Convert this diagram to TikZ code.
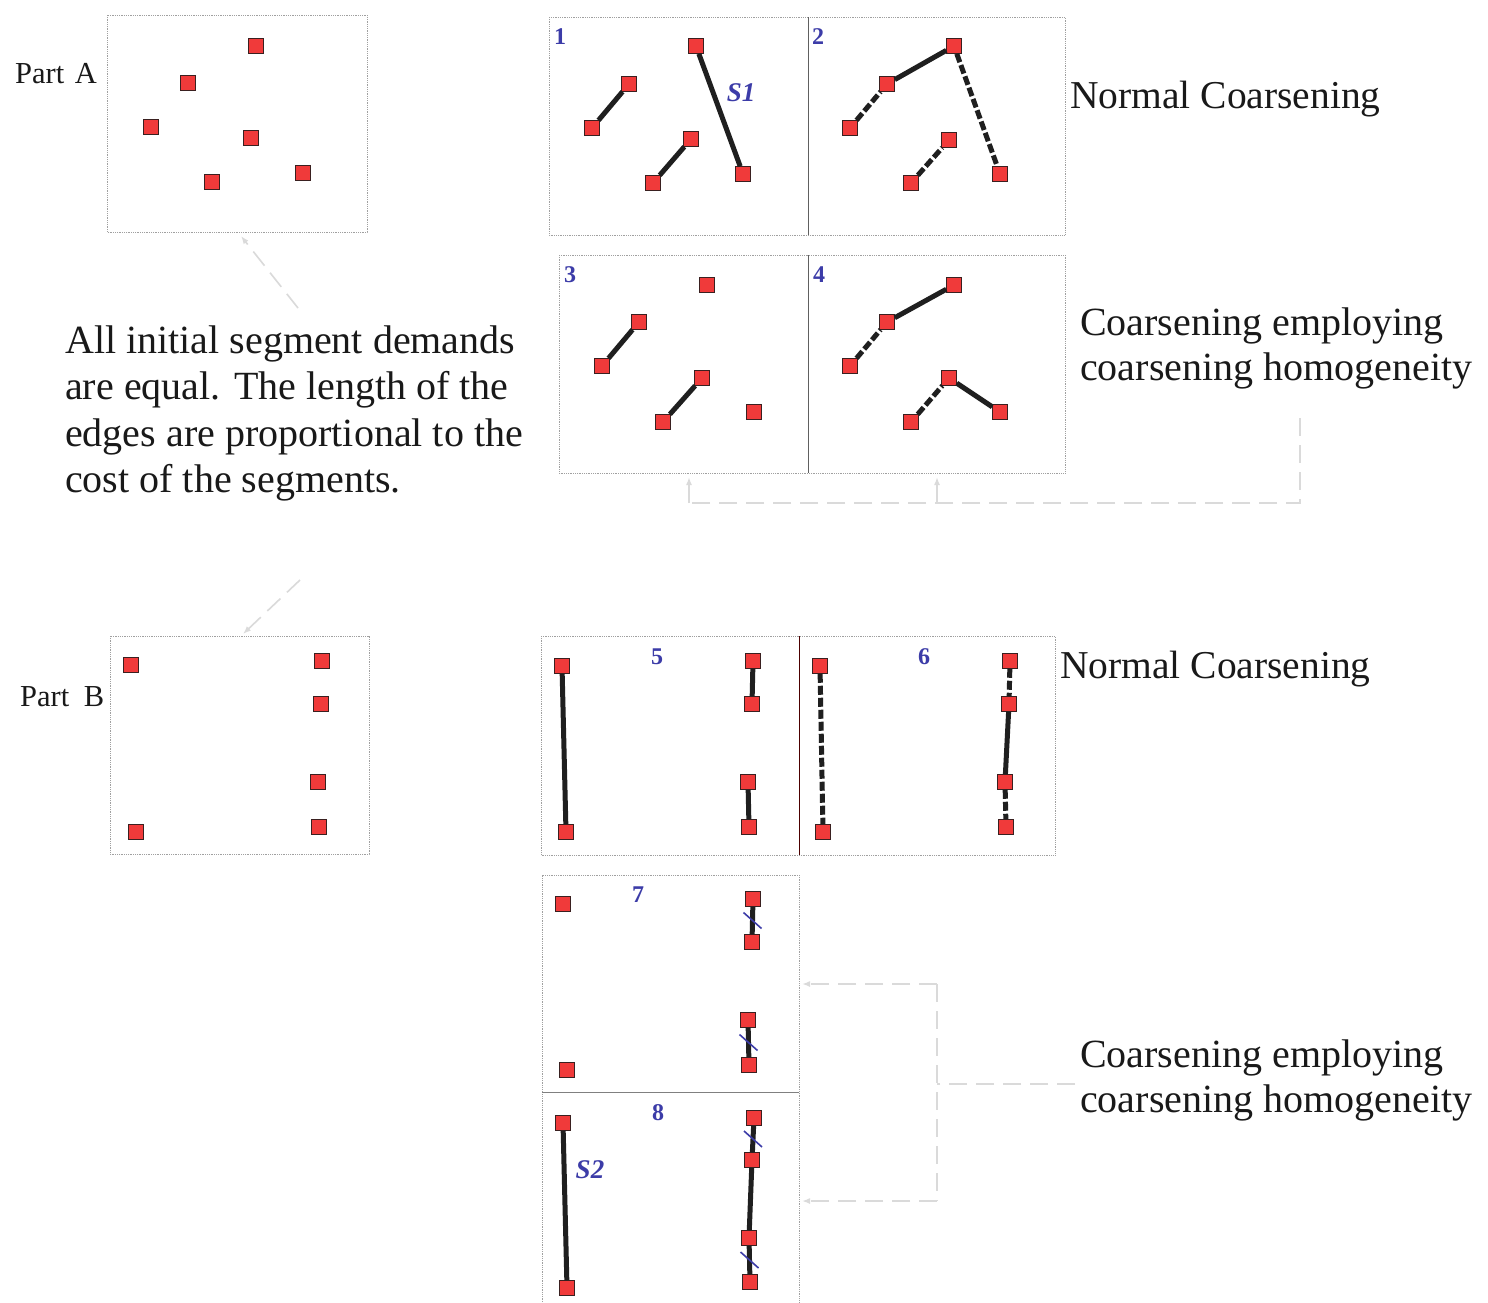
\documentclass[tikz,border=0pt]{standalone}
\usepackage{fontspec}
\setmainfont{Liberation Serif}
\usetikzlibrary{arrows.meta}
\definecolor{sqred}{HTML}{F03A3A}
\definecolor{sqedge}{HTML}{3A2020}
\definecolor{numblue}{HTML}{3C3CA8}
\definecolor{framegray}{HTML}{A0A0A0}
\definecolor{divgray}{HTML}{606060}
\definecolor{guidegray}{HTML}{DADADA}

\begin{document}
\begin{tikzpicture}[x=1pt,y=-1pt,
  sq/.style={rectangle,draw=sqedge,fill=sqred,line width=1.2pt,minimum size=15.5pt,inner sep=0pt,outer sep=0pt},
  seg/.style={line width=5pt,draw=black!88},
  dseg/.style={seg,dash pattern=on 9pt off 3pt},
  panel/.style={draw=framegray,line width=0.8pt,densely dotted},
  divline/.style={draw=divgray,line width=1pt},
  num/.style={font=\fontsize{24}{24}\selectfont\bfseries,text=numblue,inner sep=0pt},
  seglabel/.style={font=\fontsize{27}{27}\selectfont\bfseries\itshape,text=numblue,inner sep=0pt},
  bigtext/.style={font=\fontsize{40}{40}\selectfont,anchor=base west,inner sep=0pt,text=black!90},
  parttext/.style={font=\fontsize{30.5}{30.5}\selectfont,anchor=base west,inner sep=0pt,text=black!90},
  guide/.style={draw=guidegray,line width=1.6pt,dash pattern=on 18pt off 9pt},
  guidearrow/.style={guide,-{Latex[length=8pt,width=6pt]}},
  cut/.style={draw=numblue,line width=1.6pt}
]
\fill[white] (0,0) rectangle (1488,1302);
\useasboundingbox (0,0) rectangle (1488,1302);

% ---------- Part A: initial graph ----------
\draw[panel] (107,15) rectangle (367,232);
\node[parttext] (partA) at (15,83) {Part\hspace{3pt} A};
\node[sq] (a1) at (256,46) {};
\node[sq] (a2) at (188,83) {};
\node[sq] (a3) at (151,127) {};
\node[sq] (a4) at (251,138) {};
\node[sq] (a5) at (212,182) {};
\node[sq] (a6) at (303,173) {};

% ---------- Panels 1 and 2 ----------
\draw[panel] (549,17) rectangle (1065,235);
\draw[divline] (808,17) -- (808,235);
\node[num] (n1) at (560,37) {1};
\node[num] (n2) at (818,37) {2};
\node[sq] (p1a) at (696,46) {};
\node[sq] (p1b) at (629,84) {};
\node[sq] (p1c) at (592,128) {};
\node[sq] (p1d) at (691,139) {};
\node[sq] (p1e) at (653,183) {};
\node[sq] (p1f) at (743,174) {};
\draw[seg] (p1c) -- (p1b);
\draw[seg] (p1e) -- (p1d);
\draw[seg] (p1a) -- (p1f);
\node[seglabel] (s1) at (741,93) {S1};

\node[sq] (p2a) at (954,46) {};
\node[sq] (p2b) at (887,84) {};
\node[sq] (p2c) at (850,128) {};
\node[sq] (p2d) at (949,140) {};
\node[sq] (p2e) at (911,183) {};
\node[sq] (p2f) at (1000,174) {};
\draw[seg] (p2b) -- (p2a);
\draw[dseg] (p2c) -- (p2b);
\draw[dseg] (p2e) -- (p2d);
\draw[dseg] (p2a) -- (p2f);

\node[bigtext,font=\fontsize{39.5}{39.5}\selectfont] (normA) at (1070,108) {Normal Coarsening};

% ---------- Panels 3 and 4 ----------
\draw[panel] (559,255) rectangle (1065,473);
\draw[divline] (808,255) -- (808,473);
\node[num] (n3) at (570,275) {3};
\node[num] (n4) at (819,275) {4};
\node[sq] (p3a) at (707,285) {};
\node[sq] (p3b) at (639,322) {};
\node[sq] (p3c) at (602,366) {};
\node[sq] (p3d) at (702,378) {};
\node[sq] (p3e) at (663,422) {};
\node[sq] (p3f) at (754,412) {};
\draw[seg] (p3c) -- (p3b);
\draw[seg] (p3e) -- (p3d);

\node[sq] (p4a) at (954,285) {};
\node[sq] (p4b) at (887,322) {};
\node[sq] (p4c) at (850,366) {};
\node[sq] (p4d) at (949,378) {};
\node[sq] (p4e) at (911,422) {};
\node[sq] (p4f) at (1000,412) {};
\draw[seg] (p4b) -- (p4a);
\draw[dseg] (p4c) -- (p4b);
\draw[dseg] (p4e) -- (p4d);
\draw[seg] (p4d) -- (p4f);

\node[bigtext] (homA1) at (1080,335) {Coarsening employing};
\node[bigtext] (homA2) at (1080,380) {coarsening homogeneity};

% guide from the homogeneity label to panels 3 and 4
\coordinate (gA0) at (1300,418);
\coordinate (gA1) at (1300,503);
\coordinate (gA2) at (689,503);
\coordinate (gA3) at (937,503);
\coordinate (gA4) at (689,477);
\coordinate (gA5) at (937,477);
\draw[guide] (gA0) -- (gA1) -- (gA2);
\draw[guidearrow] (gA2) -- (gA4);
\draw[guidearrow] (gA3) -- (gA5);

% ---------- explanatory text ----------
\node[bigtext] (t1) at (65,353) {All initial segment demands};
\node[bigtext] (t2) at (65,399) {are equal. The length of the};
\node[bigtext] (t3) at (65,446) {edges are proportional to the};
\node[bigtext] (t4) at (65,492) {cost of the segments.};

\coordinate (gT1) at (298,308);
\coordinate (gT2) at (241,236);
\draw[guidearrow] (gT1) -- (gT2);
\coordinate (gT3) at (300,580);
\coordinate (gT4) at (243,634);
\draw[guidearrow] (gT3) -- (gT4);

% ---------- Part B: initial graph ----------
\draw[panel] (110,636) rectangle (369,854);
\node[parttext] (partB) at (20,706) {Part\hspace{7pt} B};
\node[sq] (b1) at (131,665) {};
\node[sq] (b2) at (322,661) {};
\node[sq] (b3) at (321,704) {};
\node[sq] (b4) at (318,782) {};
\node[sq] (b5) at (136,832) {};
\node[sq] (b6) at (319,827) {};

% ---------- Panels 5 and 6 ----------
\draw[panel] (541,636) rectangle (1055,855);
\draw[divline,draw=black!70!red] (799,636) -- (799,855);
\node[num] (n5) at (657,657) {5};
\node[num] (n6) at (924,657) {6};
\node[sq] (p5a) at (562,666) {};
\node[sq] (p5b) at (566,832) {};
\node[sq] (p5c) at (753,661) {};
\node[sq] (p5d) at (752,704) {};
\node[sq] (p5e) at (748,782) {};
\node[sq] (p5f) at (749,827) {};
\draw[seg] (p5a) -- (p5b);
\draw[seg] (p5c) -- (p5d);
\draw[seg] (p5e) -- (p5f);

\node[sq] (p6a) at (820,666) {};
\node[sq] (p6b) at (823,832) {};
\node[sq] (p6c) at (1010,661) {};
\node[sq] (p6d) at (1009,704) {};
\node[sq] (p6e) at (1005,782) {};
\node[sq] (p6f) at (1006,827) {};
\draw[dseg] (p6a) -- (p6b);
\draw[dseg] (p6c) -- (p6d);
\draw[seg] (p6d) -- (p6e);
\draw[dseg] (p6e) -- (p6f);

\node[bigtext,font=\fontsize{39.5}{39.5}\selectfont] (normB) at (1060,678) {Normal Coarsening};

% ---------- Panels 7 and 8 ----------
\draw[panel] (542,1320) -- (542,875) -- (799,875) -- (799,1320);
\draw[divline,draw=divgray!80] (542,1092) -- (799,1092);
\node[num] (n7) at (638,895) {7};
\node[num] (n8) at (658,1113) {8};
\node[sq] (p7a) at (563,904) {};
\node[sq] (p7b) at (567,1070) {};
\node[sq] (p7c) at (753,899) {};
\node[sq] (p7d) at (752,942) {};
\node[sq] (p7e) at (748,1020) {};
\node[sq] (p7f) at (749,1065) {};
\draw[seg] (p7c) -- (p7d) coordinate[midway] (m7a);
\draw[seg] (p7e) -- (p7f) coordinate[midway] (m7b);
\draw[cut] ([shift={(-9,-8)}]m7a) -- ([shift={(9,8)}]m7a);
\draw[cut] ([shift={(-9,-8)}]m7b) -- ([shift={(9,8)}]m7b);

\node[sq] (p8a) at (563,1123) {};
\node[sq] (p8b) at (567,1288) {};
\node[sq] (p8c) at (754,1118) {};
\node[sq] (p8d) at (752,1160) {};
\node[sq] (p8e) at (749,1238) {};
\node[sq] (p8f) at (750,1282) {};
\draw[seg] (p8a) -- (p8b);
\draw[seg] (p8c) -- (p8d) coordinate[midway] (m8a);
\draw[seg] (p8d) -- (p8e);
\draw[seg] (p8e) -- (p8f) coordinate[midway] (m8b);
\draw[cut] ([shift={(-9,-8)}]m8a) -- ([shift={(9,8)}]m8a);
\draw[cut] ([shift={(-9,-8)}]m8b) -- ([shift={(9,8)}]m8b);
\node[seglabel] (s2) at (590,1170) {S2};

\node[bigtext] (homB1) at (1080,1067) {Coarsening employing};
\node[bigtext] (homB2) at (1080,1112) {coarsening homogeneity};

% guide from the homogeneity label to panels 7 and 8
\coordinate (gB0) at (1075,1084);
\coordinate (gB1) at (937,1084);
\coordinate (gB2) at (937,984);
\coordinate (gB3) at (937,1201);
\coordinate (gB4) at (802,984);
\coordinate (gB5) at (802,1201);
\draw[guide] (gB0) -- (gB1);
\draw[guide] (gB2) -- (gB3);
\draw[guidearrow] (gB2) -- (gB4);
\draw[guidearrow] (gB3) -- (gB5);
\end{tikzpicture}
\end{document}
